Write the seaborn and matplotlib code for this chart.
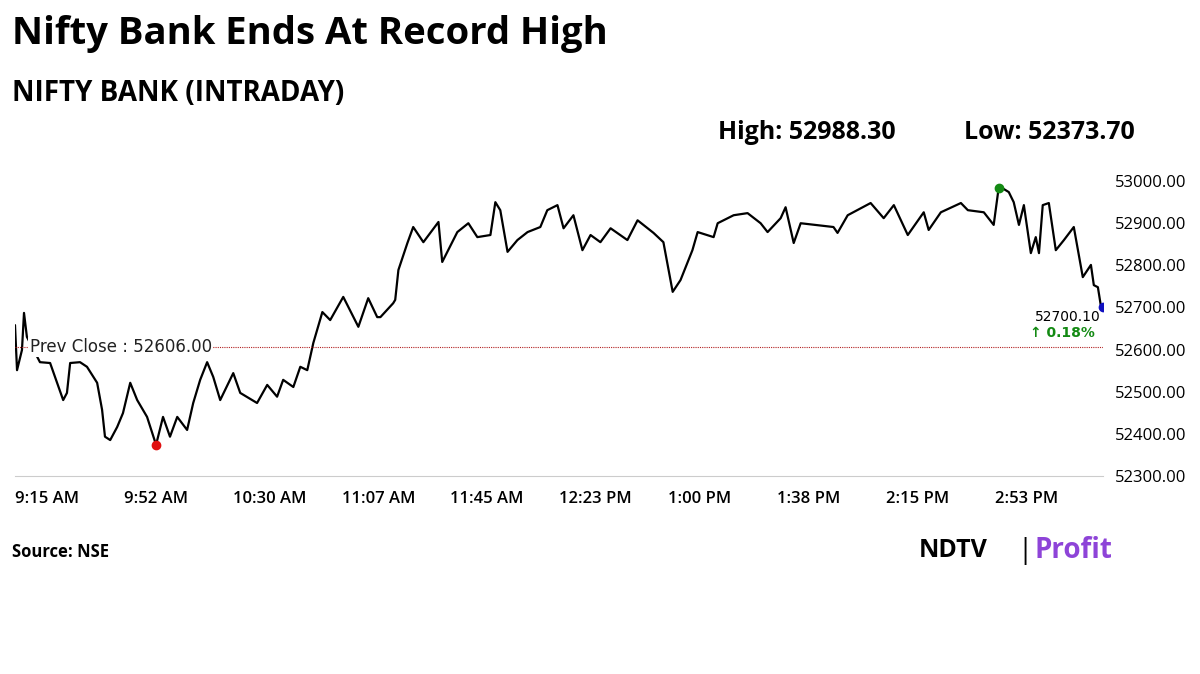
import seaborn as sns
import matplotlib.pyplot as plt
import pandas as pd

# minutes since 9:15 AM, index level
minutes = [0, 0.7, 2.4, 3.1, 4.1, 8.6, 12.1, 14.5, 16.6, 17.9, 19, 22.4, 24.8, 28.3, 30, 31,
           32.8, 35.2, 37.2, 39.7, 42.1, 45.5, 48.6, 51, 53.4, 55.9, 59.3, 61.4, 63.8, 66.2,
           68.3, 70.7, 75.2, 77.6, 83.4, 86.9, 90.3, 92.4, 95.9, 98.3, 100.7, 102.8, 105.9,
           108.6, 113.1, 118.3, 121.7, 124.8, 125.9, 130.3, 131, 132.1, 135.2, 137.2, 140.7,
           145.9, 147.2, 152.4, 156.2, 159.3, 163.8, 165.5, 167.2, 169.7, 173.1, 176.6, 181,
           183.4, 186.9, 189, 192.4, 195.5, 198.3, 201.7, 205.2, 211, 214.5, 220, 223.4, 226.6,
           229.3, 233.4, 235.2, 240.7, 242.1, 247.6, 252.4, 256.9, 259.3, 263.8, 265.5, 268.3,
           270.7, 282, 283.4, 286.9, 294.8, 299.3, 302.8, 307.6, 313.1, 314.8, 319, 325.9,
           328.3, 333.8, 337.2, 339, 342.4, 344.1, 345.9, 347.6, 350, 351.7, 352.8, 354.1,
           356.2, 358.6, 361.4, 364.8, 367.9, 370.7, 371.7, 373.1, 374.1, 375]
values = [52658, 52551, 52599, 52687, 52630, 52570, 52568, 52521, 52480, 52497, 52568, 52570,
          52559, 52521, 52457, 52393, 52385, 52416, 52449, 52521, 52480, 52440, 52373.7, 52440,
          52393, 52440, 52409, 52473, 52528, 52570, 52535, 52480, 52544, 52497, 52473, 52516,
          52488, 52528, 52511, 52559, 52551, 52616, 52689, 52670, 52725, 52654, 52722, 52677,
          52677, 52710, 52718, 52789, 52853, 52891, 52855, 52903, 52808, 52879, 52900, 52867,
          52872, 52950, 52931, 52832, 52860, 52879, 52891, 52931, 52943, 52888, 52919, 52836,
          52872, 52855, 52888, 52860, 52907, 52877, 52855, 52737, 52765, 52836, 52879, 52867,
          52900, 52919, 52924, 52900, 52879, 52912, 52938, 52853, 52900, 52891, 52877, 52919,
          52948, 52912, 52943, 52872, 52926, 52884, 52926, 52948, 52931, 52926, 52896, 52988.3,
          52974, 52950, 52896, 52943, 52829, 52867, 52829, 52943, 52948, 52836, 52860, 52891,
          52772, 52801, 52753, 52748, 52705, 52700.1]

tick_minutes = [0, 37.5, 75, 112.5, 150, 187.5, 225, 262.5, 300, 337.5]
tick_labels = ["9:15 AM", "9:52 AM", "10:30 AM", "11:07 AM", "11:45 AM", "12:23 PM",
               "1:00 PM", "1:38 PM", "2:15 PM", "2:53 PM"]
y_ticks = [52300, 52400, 52500, 52600, 52700, 52800, 52900, 53000]
prev_close = 52606.00
day_high = 52988.30
day_low = 52373.70
change_pct = 0.18

df = pd.DataFrame({"minute": minutes, "price": values})

sns.set_style("white")
plt.rcParams["font.family"] = "Open Sans"
plt.rcParams["text.color"] = "black"
plt.rcParams["xtick.color"] = "black"
plt.rcParams["ytick.color"] = "black"
fig = plt.figure(figsize=(12, 6.74), dpi=100)
ax = fig.add_axes([0.0125, 0.294, 0.907, 0.461])

sns.lineplot(data=df, x="minute", y="price", color="black", linewidth=1.6, ax=ax)
ax.axhline(prev_close, color="#b22222", linestyle=(0, (1, 1)), linewidth=0.8)
ax.text(5, prev_close, f"Prev Close : {prev_close:.2f}", fontsize=12, va="center",
        family="DejaVu Sans", color="#222222",
        bbox=dict(facecolor="white", edgecolor="none", pad=1))

lo_i = values.index(day_low)
hi_i = values.index(day_high)
ax.plot(minutes[lo_i], day_low, "o", color="#e01010", markersize=6)
ax.plot(minutes[hi_i], day_high - 5, "o", color="#138a13", markersize=6)
ax.plot(minutes[-1], values[-1], "o", color="#1010c0", markersize=6, clip_on=True)
ax.text(374, values[-1] - 22, f"{values[-1]:.2f}", ha="right", va="center", fontsize=10,
        family="DejaVu Sans")
ax.text(372, values[-1] - 62, f"\u2191 {change_pct:.2f}%", ha="right", va="center",
        fontsize=10, color="#138a13", family="DejaVu Sans", fontweight="bold")

ax.set_xlim(0, 375)
ax.set_ylim(52300, 53038)
ax.set_xticks(tick_minutes)
ax.set_xticklabels(tick_labels, ha="left", fontsize=12, fontweight="semibold")
ax.set_yticks(y_ticks)
ax.set_yticklabels([f"{v:.2f}" for v in y_ticks], fontsize=12)
ax.yaxis.tick_right()
ax.tick_params(axis="x", length=5, color="#cccccc", pad=6)
ax.tick_params(axis="y", length=0, pad=8)
for s in ["top", "left", "right"]:
    ax.spines[s].set_visible(False)
ax.spines["bottom"].set_color("#cccccc")
ax.set_xlabel("")
ax.set_ylabel("")

fig.text(0.01, 0.95, "Nifty Bank Ends At Record High", fontsize=27.5, fontweight="bold",
         va="center")
fig.text(0.01, 0.862, "NIFTY BANK (INTRADAY)", fontsize=20, fontweight="bold",
         va="center")
fig.text(0.598, 0.803, f"High: {day_high:.2f}", fontsize=18, fontweight="bold",
         va="center")
fig.text(0.803, 0.803, f"Low: {day_low:.2f}", fontsize=18, fontweight="bold",
         va="center")
fig.text(0.01, 0.181, "Source: NSE", fontsize=12, fontweight="bold", va="center")
fig.text(0.766, 0.183, "NDTV", fontsize=18, fontweight="bold", va="center")
fig.text(0.848, 0.183, "|", fontsize=20, va="center")
fig.text(0.862, 0.183, "Profit", fontsize=20, fontweight="bold", color="#8e44d8",
         va="center")

fig.savefig("out.png", dpi=100)
